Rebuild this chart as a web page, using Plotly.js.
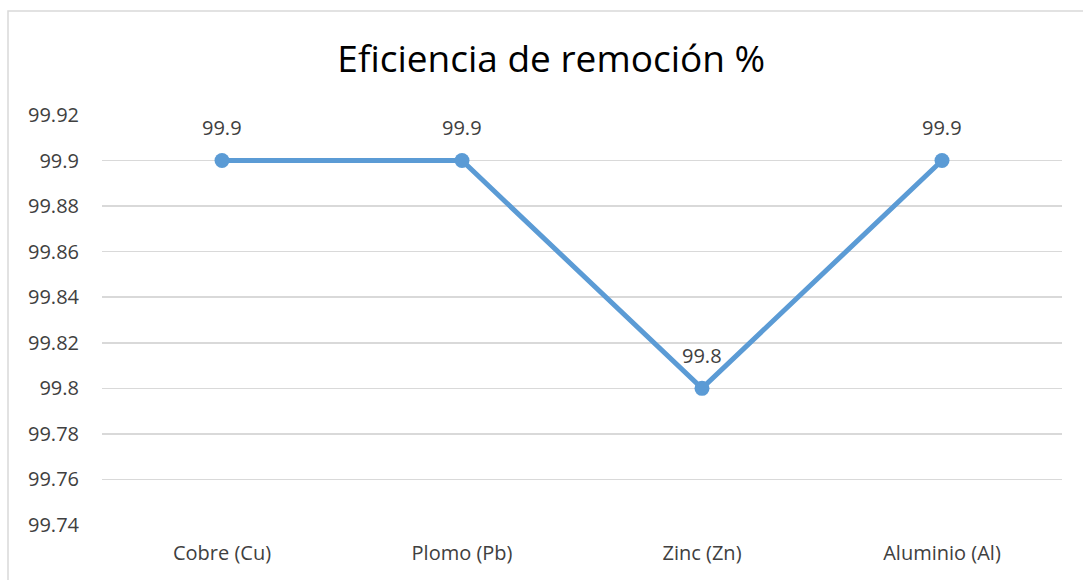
<!DOCTYPE html>
<html>
<head>
<meta charset="utf-8">
<script src="https://cdn.plot.ly/plotly-3.0.1.min.js"></script>
<style>html,body{margin:0;padding:0;background:#fff;}#chart{width:1083px;height:580px;}</style>
</head>
<body>
<div id="chart"></div>
<script>
const categories = ["Cobre (Cu)", "Plomo (Pb)", "Zinc (Zn)", "Aluminio (Al)"];
const efficiency = [99.9, 99.9, 99.8, 99.9];
const dataLabels = ["99.9", "99.9", "99.8", "99.9"];
const yTickVals = [99.74, 99.76, 99.78, 99.8, 99.82, 99.84, 99.86, 99.88, 99.9, 99.92];
const yTickText = ["99.74", "99.76", "99.78", "99.8", "99.82", "99.84", "99.86", "99.88", "99.9", "99.92"];

const font = "'Open Sans', 'Noto Sans', sans-serif";

const trace = {
  x: categories,
  y: efficiency,
  type: "scatter",
  mode: "lines+markers",
  line: {color: "#5b9bd5", width: 5},
  marker: {color: "#5b9bd5", size: 15},
  hoverinfo: "skip"
};

const annotations = categories.map((c, i) => ({
  x: c, y: efficiency[i], xref: "x", yref: "y",
  text: dataLabels[i], showarrow: false, yshift: 33,
  font: {family: font, size: 20, color: "#404040"}
}));

const layout = {
  width: 1083, height: 580,
  margin: {l: 102, r: 21, t: 115, b: 55},
  paper_bgcolor: "#ffffff",
  plot_bgcolor: "#ffffff",
  showlegend: false,
  title: {
    text: "Eficiencia de remoción %",
    font: {family: font, size: 37, color: "#000000"},
    x: 0.509, xref: "container", xanchor: "center",
    y: 1 - 59/580, yref: "container", yanchor: "middle"
  },
  xaxis: {
    type: "category",
    range: [-0.5, 3.5],
    showgrid: false,
    zeroline: false,
    showline: false,
    ticks: "",
    ticklabelstandoff: 14,
    tickfont: {family: font, size: 20, color: "#404040"}
  },
  yaxis: {
    range: [99.74, 99.92],
    tickvals: yTickVals,
    ticktext: yTickText,
    showgrid: true,
    gridcolor: "#d9d9d9",
    gridwidth: 1.5,
    zeroline: false,
    showline: false,
    ticks: "",
    ticklabelstandoff: 22,
    tickfont: {family: font, size: 20, color: "#404040"}
  },
  shapes: [{
    type: "rect", xref: "paper", yref: "paper",
    x0: (8 - 102) / 960, x1: (1095 - 102) / 960,
    y0: (525 - 595) / 410, y1: 1 + (115 - 11) / 410,
    line: {color: "#d9d9d9", width: 1.5},
    fillcolor: "rgba(0,0,0,0)",
    layer: "below"
  }],
  annotations: annotations
};

Plotly.newPlot("chart", [trace], layout, {displayModeBar: false, staticPlot: true});
</script>
</body>
</html>
